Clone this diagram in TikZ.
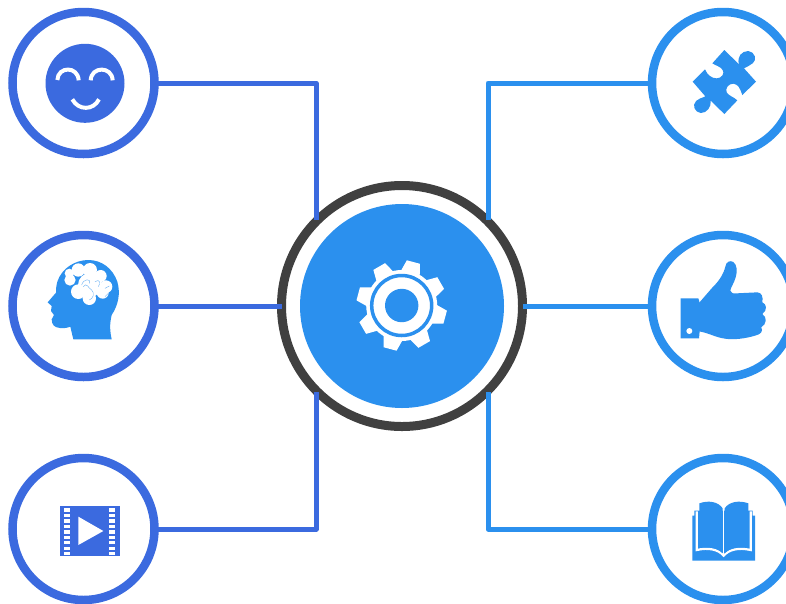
\documentclass[tikz,border=0pt]{standalone}
\definecolor{dblue}{HTML}{3B6ADF}
\definecolor{lblue}{HTML}{2B90EE}
\definecolor{hubgray}{HTML}{404040}
\tikzset{
  ringd/.style={circle,draw=dblue,fill=white,line width=8.5pt,minimum size=142pt,inner sep=0pt,outer sep=0pt},
  ringl/.style={circle,draw=lblue,fill=white,line width=8.5pt,minimum size=142pt,inner sep=0pt,outer sep=0pt},
  hubring/.style={circle,draw=hubgray,fill=white,line width=9pt,minimum size=241pt,inner sep=0pt,outer sep=0pt},
  hubcore/.style={circle,fill=lblue,minimum size=204pt,inner sep=0pt,outer sep=0pt},
  cond/.style={draw=dblue,line width=5pt,line join=round},
  conl/.style={draw=lblue,line width=5pt,line join=round},
  zoomat/.style 2 args={shift={(#1,#2)},x=0.33333pt,y=-0.33333pt},
  brainline/.style={draw=lblue!70,line width=0.4pt}
}
\begin{document}
\begin{tikzpicture}[x=1pt,y=-1pt]
\useasboundingbox (0,0) rectangle (786,603);
\clip (0,0) rectangle (786,603);
\node[hubring] (hub) at (402,306) {};
\coordinate (hl1) at (316,220);
\coordinate (hl3) at (316,392);
\coordinate (hr1) at (488,220);
\coordinate (hr3) at (488,392);
\node[ringd] (smile) at (83.5,83) {};
\node[ringd] (brain) at (83.5,306) {};
\node[ringd] (film) at (83.5,529) {};
\node[ringl] (puzzle) at (723,83) {};
\node[ringl] (thumb) at (723,306) {};
\node[ringl] (book) at (723,529) {};
\draw[cond] (smile.east) -| (hl1);
\draw[cond] (brain.east) -- (hub.west);
\draw[cond] (film.east) -| (hl3);
\draw[conl] (puzzle.west) -| (hr1);
\draw[conl] (thumb.west) -- (hub.east);
\draw[conl] (book.west) -| (hr3);
\node[hubcore] (core) at (402,306) {};
% gear
\begin{scope}[shift={(401.7,305.5)}]
  \fill[white] (0,0) circle (35.5);
  \foreach \a in {-75,-30,15,60,105,150,195,240}{
    \fill[white] (\a-17:34) -- (\a-8.5:45.5) -- (\a+8.5:45.5) -- (\a+17:34) -- cycle;
  }
  \draw[lblue,line width=3.5pt] (0,0) circle (30);
  \fill[lblue] (0,0) circle (16.7);
\end{scope}
% smile
\fill[dblue] (85,83.3) circle (39.5);
\begin{scope}[zoomat={0}{0}]
  \draw[white,line width=4pt] (172,240) .. controls (174,198) and (234,198) .. (236,241);
  \draw[white,line width=4pt] (272,241) .. controls (274,198) and (336,198) .. (338,241);
  \draw[white,line width=4pt] (217,298) .. controls (235,332) and (280,332) .. (297,298);
\end{scope}
% head
\begin{scope}[zoomat={30}{250}]
  \fill[lblue] (245,268) .. controls (240,245) and (238,225) .. (245,195)
    .. controls (265,165) and (272,130) .. (262,95)
    .. controls (248,55) and (215,30) .. (175,30)
    .. controls (135,30) and (95,55) .. (82,95)
    .. controls (78,110) and (78,120) .. (78,128)
    -- (53,157) -- (65,168) -- (63,183) -- (72,195) -- (65,208)
    .. controls (66,225) and (72,232) .. (90,234)
    .. controls (105,236) and (115,232) .. (121,230)
    -- (130,268) -- cycle;
  \fill[white] (118,70) circle (14);
  \fill[white] (120,90) circle (17);
  \fill[white] (145,60) circle (20);
  \fill[white] (180,60) circle (21);
  \fill[white] (212,78) circle (18);
  \fill[white] (228,110) circle (19);
  \fill[white] (218,128) circle (18);
  \fill[white] (178,145) circle (20);
  \fill[white] (145,125) circle (22);
  \fill[white] (180,105) circle (36);
  \draw[brainline] (155,105) .. controls (160,85) and (185,85) .. (178,100);
  \draw[brainline] (160,110) .. controls (170,95) and (175,115) .. (185,120) .. controls (195,130) and (190,145) .. (178,150);
  \draw[brainline] (195,95) .. controls (210,85) and (212,100) .. (205,110);
  \draw[brainline] (225,115) -- (238,108);
  \draw[brainline] (225,140) -- (235,130);
\end{scope}
% film
\begin{scope}[zoomat={40}{490}]
  \fill[dblue] (60,48) rectangle (240,197);
  \foreach \k in {0,...,8}{
    \fill[white] (72,{55+\k*16.4}) rectangle (90,{65+\k*16.4});
    \fill[white] (207,{55+\k*16.4}) rectangle (226,{65+\k*16.4});
  }
  \fill[white] (115,80) -- (190,123) -- (115,165) -- cycle;
\end{scope}
% puzzle
\begin{scope}[zoomat={680}{35}]
  \fill[lblue] (133,45) -- (177,88) .. controls (170,65) and (185,48) .. (205,48)
    .. controls (225,50) and (232,75) .. (218,85) .. controls (210,92) and (200,95) .. (192,100)
    -- (228,140) -- (187,180) .. controls (180,160) and (175,148) .. (160,146)
    .. controls (145,146) and (135,160) .. (140,172) .. controls (145,182) and (160,185) .. (172,196)
    -- (133,237) -- (92,197) .. controls (95,215) and (80,235) .. (62,234)
    .. controls (45,232) and (35,212) .. (48,198) .. controls (55,190) and (65,190) .. (76,184)
    -- (38,140) -- (75,103) .. controls (82,120) and (95,130) .. (110,130)
    .. controls (125,130) and (135,115) .. (128,105) .. controls (122,95) and (108,92) .. (97,85)
    -- cycle;
\end{scope}
% thumb
\begin{scope}[zoomat={670}{250}]
  \fill[lblue] (32,145) -- (85,145) -- (89,158) -- (89,244) -- (87,265) -- (32,265) -- cycle;
  \fill[white] (58,243) circle (9);
  \fill[lblue] (86,160) -- (125,115) .. controls (145,95) and (160,75) .. (166,50)
    .. controls (168,35) and (180,30) .. (190,36)
    .. controls (202,45) and (202,65) .. (197,82)
    .. controls (192,100) and (182,112) .. (181,122)
    .. controls (182,130) and (190,131) .. (200,130)
    -- (262,127) .. controls (275,128) and (280,140) .. (277,157)
    .. controls (290,162) and (293,180) .. (277,192)
    .. controls (292,202) and (290,222) .. (274,232)
    .. controls (280,245) and (272,253) .. (255,257)
    .. controls (225,266) and (190,270) .. (165,266)
    .. controls (135,262) and (115,248) .. (86,244) -- cycle;
\end{scope}
% book
\begin{scope}[zoomat={680}{490}]
  \fill[lblue] (37,77) -- (43,77) -- (43,62) -- (218,62) -- (218,77) -- (225,77) -- (225,212) -- (37,212) -- cycle;
  \draw[white,line width=2.2pt] (50,64) -- (50,180) .. controls (85,172) and (115,178) .. (131,197)
    .. controls (147,178) and (177,172) .. (212,180) -- (212,64);
  \fill[lblue] (58,40) .. controls (85,30) and (115,35) .. (128,55) -- (128,190)
    .. controls (110,172) and (85,168) .. (58,172) -- cycle;
  \fill[lblue] (134,55) .. controls (147,35) and (177,30) .. (205,40) -- (205,172)
    .. controls (178,168) and (152,172) .. (134,190) -- cycle;
  \draw[white,line width=1.2pt] (131,50) -- (131,195);
\end{scope}
\end{tikzpicture}
\end{document}
